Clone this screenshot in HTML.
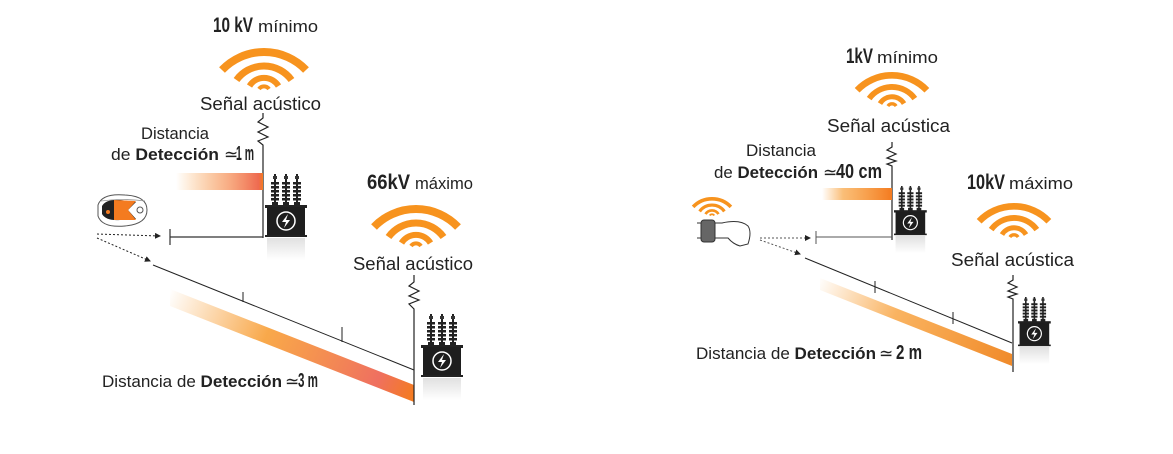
<!DOCTYPE html>
<html><head><meta charset="utf-8"><style>
html,body{margin:0;padding:0;background:#fff}
svg{display:block}
text{font-family:"Liberation Sans",sans-serif;fill:#222}
.b{font-weight:bold}
</style></head><body>
<svg width="1173" height="454" viewBox="0 0 1173 454" xmlns="http://www.w3.org/2000/svg">
<defs>
<g id="wifi" fill="none" stroke="#f7931e" stroke-linecap="butt">
<path d="M-42,22 A58,58 0 0 1 42,22" stroke-width="8"/>
<path d="M-27.5,32 A34,34 0 0 1 27.5,32" stroke-width="7"/>
<path d="M-14.5,38 A17,17 0 0 1 14.5,38" stroke-width="6"/>
<path d="M-5,41 A6,6 0 0 1 5,41" stroke-width="4"/>
</g>
<g id="ins">
<rect x="-1" y="0" width="2" height="32" fill="#222"/>
<rect x="-2" y="2" width="4" height="3" fill="#333"/>
<rect x="-4" y="8" width="8" height="2.5" fill="#222"/>
<rect x="-4" y="12" width="8" height="2.5" fill="#222"/>
<rect x="-4" y="16" width="8" height="2.5" fill="#222"/>
<rect x="-4" y="20" width="8" height="2.5" fill="#222"/>
<rect x="-4" y="24" width="8" height="2.5" fill="#222"/>
<rect x="-3" y="28" width="6" height="4" fill="#222"/>
</g>
<linearGradient id="refl" x1="0" y1="0" x2="0" y2="1"><stop offset="0" stop-color="#ccc"/><stop offset="1" stop-color="#fff"/></linearGradient>
<g id="tr">
<use href="#ins" x="10" y="0"/><use href="#ins" x="21" y="0"/><use href="#ins" x="32" y="0"/>
<rect x="0" y="31" width="42" height="3" fill="#222"/>
<rect x="2" y="33" width="38" height="29" fill="#1e1e1e"/>
<rect x="0" y="61" width="42" height="2" fill="#222"/>
<circle cx="21" cy="47" r="9" fill="none" stroke="#fff" stroke-width="1.5"/>
<path d="M23,40 L17,48 L21,48 L19,54 L25,46 L21,46 Z" fill="#fff"/>
<rect x="2" y="64" width="38" height="22" fill="url(#refl)" opacity="0.6"/>
</g>
<linearGradient id="g1" x1="0" y1="0" x2="1" y2="0"><stop offset="0" stop-color="#f7931e" stop-opacity="0"/><stop offset="0.6" stop-color="#f58a50" stop-opacity="0.7"/><stop offset="0.95" stop-color="#ee6a50"/><stop offset="1" stop-color="#f47b20"/></linearGradient>
<linearGradient id="g2" x1="0" y1="0" x2="1" y2="0"><stop offset="0" stop-color="#f7931e" stop-opacity="0"/><stop offset="0.3" stop-color="#f7931e" stop-opacity="0.6"/><stop offset="1" stop-color="#f47b20"/></linearGradient>
<linearGradient id="g3" gradientUnits="userSpaceOnUse" x1="170" y1="290" x2="414" y2="395"><stop offset="0" stop-color="#f7931e" stop-opacity="0"/><stop offset="0.4" stop-color="#f7931e" stop-opacity="0.8"/><stop offset="0.85" stop-color="#ef7060"/><stop offset="1" stop-color="#f47b20"/></linearGradient>
<linearGradient id="g4" gradientUnits="userSpaceOnUse" x1="820" y1="275" x2="1012" y2="362"><stop offset="0" stop-color="#f7931e" stop-opacity="0"/><stop offset="0.4" stop-color="#f7931e" stop-opacity="0.7"/><stop offset="1" stop-color="#f08a2a"/></linearGradient>
<marker id="ar" markerWidth="6" markerHeight="6" refX="5" refY="3" orient="auto"><path d="M0,0 L6,3 L0,6 Z" fill="#222"/></marker>
</defs>

<!-- LEFT PANEL -->
<text x="213" y="32" class="b" font-size="21" textLength="40" lengthAdjust="spacingAndGlyphs">10 kV</text>
<text x="258" y="32" font-size="17" textLength="60" lengthAdjust="spacingAndGlyphs">mínimo</text>
<use href="#wifi" x="264" y="48"/>
<text x="200" y="110" font-size="18" textLength="121" lengthAdjust="spacingAndGlyphs">Señal acústico</text>
<path d="M263,113 L263,118 L258,122 L268,127 L258,132 L268,137 L258,141 L263,145 L263,238" fill="none" stroke="#222" stroke-width="1.2"/>
<text x="141" y="139" font-size="17" textLength="68" lengthAdjust="spacingAndGlyphs">Distancia</text>
<text x="111" y="160" font-size="17" textLength="108" lengthAdjust="spacingAndGlyphs">de <tspan class="b">Detección</tspan></text>
<text x="224" y="160" font-size="17">≃</text>
<text x="236" y="160" class="b" font-size="20" textLength="18" lengthAdjust="spacingAndGlyphs">1 m</text>
<rect x="176" y="173" width="87" height="17" fill="url(#g1)"/>
<use href="#tr" x="265" y="174"/>
<line x1="170" y1="237" x2="263" y2="237" stroke="#333" stroke-width="1.2"/>
<line x1="170" y1="229" x2="170" y2="245" stroke="#333" stroke-width="1.2"/>
<!-- device -->
<g>
<path d="M98,205 Q102,193 125,195 Q147,196 147,210 Q147,224 125,226 Q102,228 98,216 Z" fill="#fff" stroke="#555" stroke-width="1"/>
<path d="M101,201 Q123,198 145,201" fill="none" stroke="#999" stroke-width="0.8"/>
<path d="M102,206 Q106,199 120,200 L136,202 L128,210 L136,219 L120,220 Q106,221 102,214 Z" fill="#222"/>
<path d="M114,200 L136,201 L128,210 L136,220 L114,220 Z" fill="#f47b20"/>
<circle cx="108" cy="212" r="2" fill="#f47b20"/>
<circle cx="140" cy="210" r="3" fill="none" stroke="#555"/>
</g>
<line x1="97" y1="234" x2="160" y2="236" stroke="#222" stroke-dasharray="2,2" marker-end="url(#ar)"/>
<line x1="97" y1="238" x2="150" y2="261" stroke="#222" stroke-dasharray="2,2" marker-end="url(#ar)"/>
<polygon points="170,289 414,385 414,402 170,306" fill="url(#g3)"/>
<line x1="153" y1="265" x2="414" y2="370" stroke="#222" stroke-width="1"/>
<line x1="243" y1="292" x2="243" y2="302" stroke="#222"/>
<line x1="342" y1="327" x2="342" y2="342" stroke="#222"/>
<text x="102" y="387" font-size="17" textLength="180" lengthAdjust="spacingAndGlyphs">Distancia de <tspan class="b">Detección</tspan></text>
<text x="285" y="387" font-size="17">≃</text>
<text x="298" y="387" class="b" font-size="20" textLength="20" lengthAdjust="spacingAndGlyphs">3 m</text>
<text x="367" y="189" class="b" font-size="21" textLength="43" lengthAdjust="spacingAndGlyphs">66kV</text>
<text x="415" y="189" font-size="17" textLength="58" lengthAdjust="spacingAndGlyphs">máximo</text>
<use href="#wifi" x="416" y="205"/>
<text x="353" y="270" font-size="18" textLength="120" lengthAdjust="spacingAndGlyphs">Señal acústico</text>
<path d="M414,275 L414,282 L409,286 L419,291 L409,296 L419,300 L409,304 L414,309 L414,405" fill="none" stroke="#222" stroke-width="1.2"/>
<use href="#tr" x="421" y="314"/>

<!-- RIGHT PANEL -->
<text x="846" y="63" class="b" font-size="21" textLength="27" lengthAdjust="spacingAndGlyphs">1kV</text>
<text x="877" y="63" font-size="17" textLength="61" lengthAdjust="spacingAndGlyphs">mínimo</text>
<g transform="translate(892,72) scale(0.83)"><use href="#wifi"/></g>
<text x="827" y="132" font-size="18" textLength="123" lengthAdjust="spacingAndGlyphs">Señal acústica</text>
<path d="M892,142 L892,147 L887,150 L896,154 L887,158 L896,161 L887,164 L892,166 L892,240" fill="none" stroke="#222" stroke-width="1.2"/>
<text x="746" y="156" font-size="17" textLength="70" lengthAdjust="spacingAndGlyphs">Distancia</text>
<text x="714" y="178" font-size="17" textLength="104" lengthAdjust="spacingAndGlyphs">de <tspan class="b">Detección</tspan></text>
<text x="823" y="178" font-size="17">≃</text>
<text x="836" y="178" class="b" font-size="20" textLength="46" lengthAdjust="spacingAndGlyphs">40 cm</text>
<rect x="822" y="188" width="70" height="12" fill="url(#g2)"/>
<g transform="translate(894,186) scale(0.78)"><use href="#tr"/></g>
<line x1="816" y1="237" x2="892" y2="237" stroke="#555" stroke-width="1"/>
<line x1="816" y1="231" x2="816" y2="244" stroke="#555" stroke-width="1"/>
<!-- wrist -->
<g transform="translate(712,197) scale(0.45)"><use href="#wifi"/></g>
<path d="M697,223 L722,223 Q740,219 748,226 Q752,232 748,244 L740,246 Q733,244 728,238 L697,238" fill="#fff" stroke="#333" stroke-width="1"/>
<rect x="701" y="220" width="14" height="22" rx="3" fill="#666" stroke="#333"/>
<line x1="760" y1="238" x2="810" y2="238" stroke="#555" stroke-dasharray="2,2" marker-end="url(#ar)"/>
<line x1="760" y1="240" x2="800" y2="254" stroke="#555" stroke-dasharray="2,2" marker-end="url(#ar)"/>
<polygon points="820,278 1012,354 1012,366 820,290" fill="url(#g4)"/>
<line x1="805" y1="258" x2="1012" y2="343" stroke="#222" stroke-width="1"/>
<line x1="875" y1="281" x2="875" y2="293" stroke="#222"/>
<line x1="953" y1="312" x2="953" y2="324" stroke="#222"/>
<text x="696" y="359" font-size="17" textLength="180" lengthAdjust="spacingAndGlyphs">Distancia de <tspan class="b">Detección</tspan></text>
<text x="879" y="359" font-size="17">≃</text>
<text x="896" y="359" class="b" font-size="20" textLength="26" lengthAdjust="spacingAndGlyphs">2 m</text>
<text x="967" y="189" class="b" font-size="21" textLength="38" lengthAdjust="spacingAndGlyphs">10kV</text>
<text x="1009" y="189" font-size="17" textLength="64" lengthAdjust="spacingAndGlyphs">máximo</text>
<g transform="translate(1014,203) scale(0.83)"><use href="#wifi"/></g>
<text x="951" y="266" font-size="18" textLength="123" lengthAdjust="spacingAndGlyphs">Señal acústica</text>
<path d="M1013,275 L1013,280 L1008,283 L1017,287 L1008,291 L1017,294 L1008,297 L1013,299 L1013,372" fill="none" stroke="#222" stroke-width="1.2"/>
<g transform="translate(1018,297) scale(0.78)"><use href="#tr"/></g>
</svg>
</body></html>
